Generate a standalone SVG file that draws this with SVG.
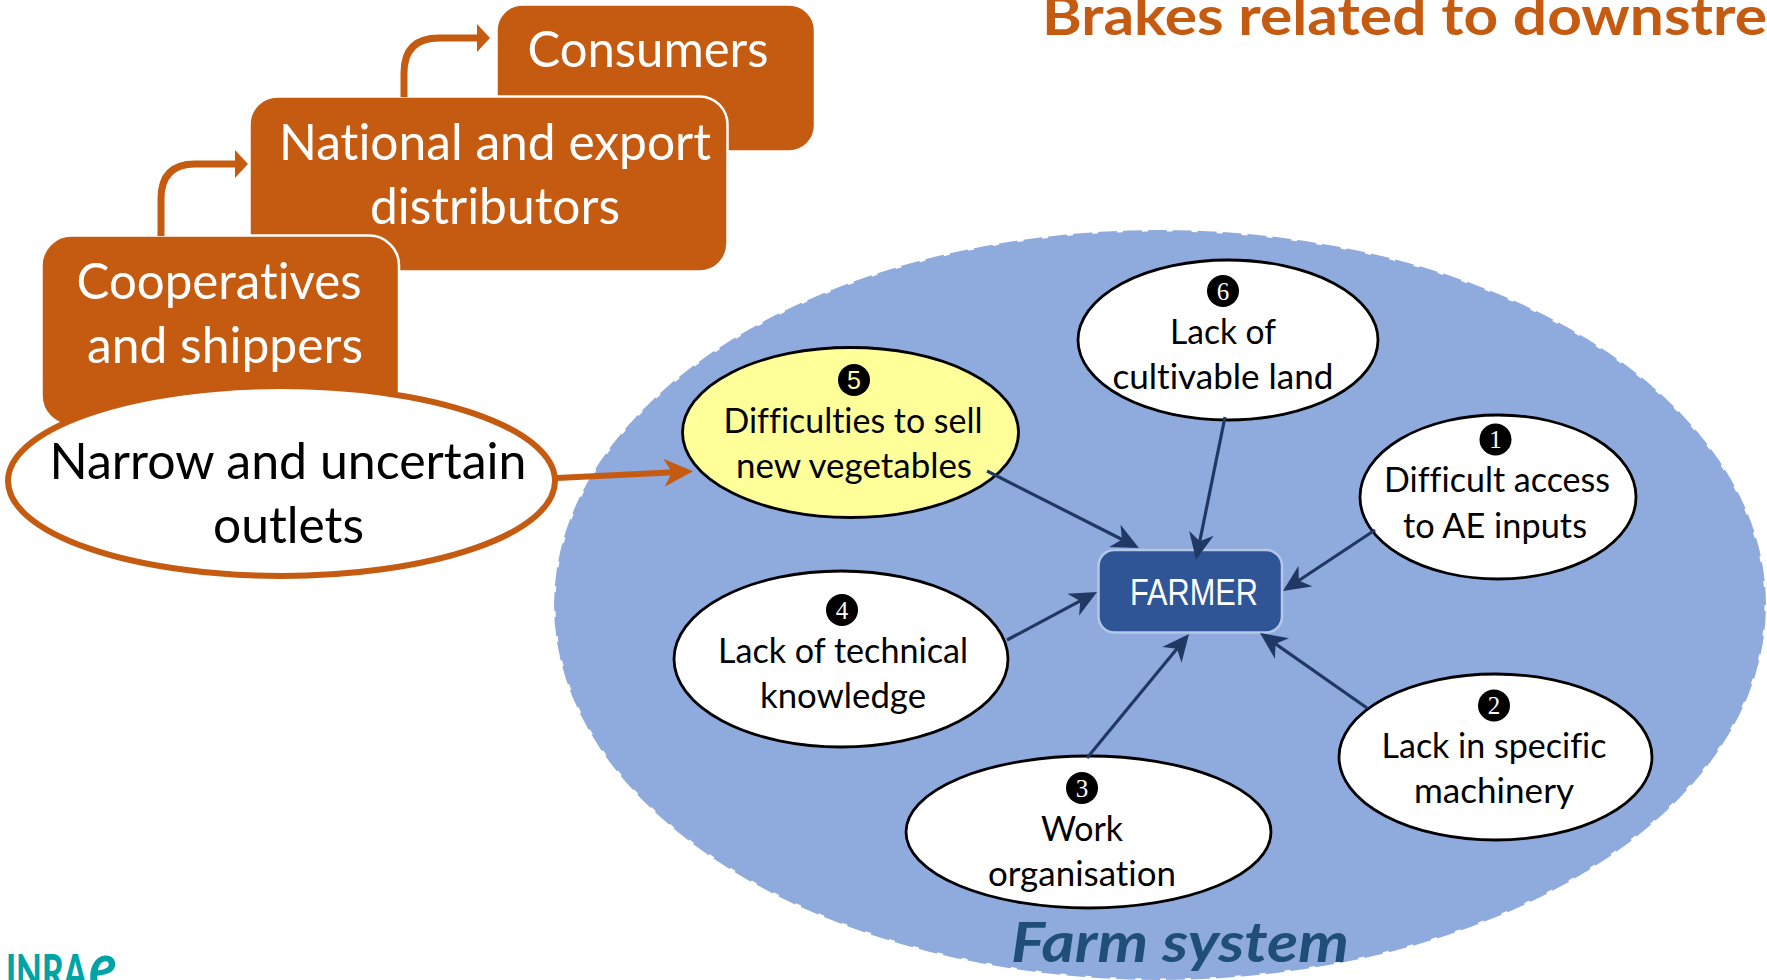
<svg xmlns="http://www.w3.org/2000/svg" width="1767" height="980" viewBox="0 0 1767 980">
<style>
text{font-family:"Lato","Open Sans",sans-serif;text-anchor:middle;font-variant-ligatures:none}
.box{fill:#c55a11;stroke:#fff;stroke-width:2.5}
.w{fill:#fff;font-size:50px}
.b{fill:#000;font-size:50px}
.o{fill:#fff;stroke:#000;stroke-width:2.8}
.t{fill:#000;font-size:35px}
.d{fill:#000}
.n{font-family:"Liberation Serif",serif;font-size:25px;fill:#fff}
.c{stroke:#203864;stroke-width:3.2;fill:none;marker-end:url(#ah)}
.r{stroke:#c55a11;fill:none}
</style>
<defs>
<marker id="ah" markerUnits="userSpaceOnUse" markerWidth="28" markerHeight="26" refX="17" refY="13" orient="auto"><path d="M0,0.5 L27,13 L0,25.5 L8,13Z" fill="#203864"/></marker>
<marker id="oh" markerUnits="userSpaceOnUse" markerWidth="30" markerHeight="30" refX="15" refY="15" orient="auto"><path d="M0,1 L29,15 L0,29 L8,15Z" fill="#c55a11"/></marker>
<marker id="ob" markerUnits="userSpaceOnUse" markerWidth="14" markerHeight="30" refX="1" refY="15" orient="auto"><path d="M0,1 L13,15 L0,29Z" fill="#c55a11"/></marker>
</defs>
<rect width="1767" height="980" fill="#fff"/>
<g id="title"><text x="1042" y="35" style="text-anchor:start;font-weight:700;font-size:54px;fill:#c55a11" textLength="725" lengthAdjust="spacingAndGlyphs">Brakes related to downstre</text></g>
<g id="logo"><text x="6" y="990" style="text-anchor:start;font-size:50px;fill:#00a3a6;font-weight:900" textLength="81" lengthAdjust="spacingAndGlyphs">INRA</text><text x="89" y="990" style="text-anchor:start;font-size:66px;font-style:italic;fill:#00a3a6;font-weight:700" textLength="28" lengthAdjust="spacingAndGlyphs">e</text></g>
<g id="consumers"><rect class="box" x="496.500" y="4.500" width="318.500" height="147" rx="26"/><text class="w" x="648" y="67" textLength="241" lengthAdjust="spacingAndGlyphs">Consumers</text></g>
<g id="distributors"><rect class="box" x="249.500" y="96.500" width="478" height="175" rx="28"/><text class="w" x="495" y="160" textLength="432" lengthAdjust="spacingAndGlyphs">National and export</text><text class="w" x="495" y="224" textLength="250" lengthAdjust="spacingAndGlyphs">distributors</text></g>
<g id="cooperatives"><rect class="box" x="41.500" y="235.500" width="357.500" height="190" rx="30"/><text class="w" x="219" y="299" textLength="285" lengthAdjust="spacingAndGlyphs">Cooperatives</text><text class="w" x="225" y="363" textLength="276" lengthAdjust="spacingAndGlyphs">and shippers</text></g>
<g id="outlets"><ellipse cx="281.500" cy="481" rx="273.500" ry="95" fill="#fff" stroke="#c55a11" stroke-width="6"/><text class="b" x="288" y="479" textLength="477" lengthAdjust="spacingAndGlyphs">Narrow and uncertain</text><text class="b" x="288.500" y="543" textLength="151" lengthAdjust="spacingAndGlyphs">outlets</text></g>
<g id="farm-system"><ellipse cx="1160" cy="605" rx="606" ry="375" fill="#8faadc" stroke="#fff" stroke-width="3" stroke-dasharray="6 19"/><text x="1180" y="962" style="font-weight:700;font-style:italic;font-size:56px;fill:#1f4e79" textLength="338" lengthAdjust="spacingAndGlyphs">Farm system</text></g>
<g id="brake-6"><ellipse class="o" cx="1228" cy="340" rx="150" ry="80"/><circle class="d" cx="1223" cy="291" r="16"/><text class="n" x="1223" y="300">6</text><text class="t" x="1223" y="344" textLength="106" lengthAdjust="spacingAndGlyphs">Lack of</text><text class="t" x="1223" y="389" textLength="221" lengthAdjust="spacingAndGlyphs">cultivable land</text></g>
<g id="brake-1"><ellipse class="o" cx="1498" cy="497" rx="138" ry="82"/><circle class="d" cx="1495.500" cy="439.500" r="16"/><text class="n" x="1495.500" y="448">1</text><text class="t" x="1497" y="492" textLength="226" lengthAdjust="spacingAndGlyphs">Difficult access</text><text class="t" x="1495" y="538" textLength="184" lengthAdjust="spacingAndGlyphs">to AE inputs</text></g>
<g id="brake-2"><ellipse class="o" cx="1495.500" cy="757" rx="156.500" ry="83"/><circle class="d" cx="1494" cy="705.500" r="16"/><text class="n" x="1494" y="714">2</text><text class="t" x="1494" y="758" textLength="225" lengthAdjust="spacingAndGlyphs">Lack in specific</text><text class="t" x="1494" y="803" textLength="160" lengthAdjust="spacingAndGlyphs">machinery</text></g>
<g id="brake-3"><ellipse class="o" cx="1088.500" cy="832" rx="182.500" ry="76"/><circle class="d" cx="1082" cy="788" r="16"/><text class="n" x="1082" y="797">3</text><text class="t" x="1082" y="841" textLength="82" lengthAdjust="spacingAndGlyphs">Work</text><text class="t" x="1082" y="886" textLength="188" lengthAdjust="spacingAndGlyphs">organisation</text></g>
<g id="brake-4"><ellipse class="o" cx="841" cy="659" rx="167" ry="88"/><circle class="d" cx="842" cy="610" r="16"/><text class="n" x="842" y="619">4</text><text class="t" x="843" y="663" textLength="250" lengthAdjust="spacingAndGlyphs">Lack of technical</text><text class="t" x="843" y="708" textLength="166" lengthAdjust="spacingAndGlyphs">knowledge</text></g>
<g id="brake-5"><ellipse class="o" cx="850.500" cy="432.500" rx="168" ry="85" style="fill:#ffff99"/><circle class="d" cx="854" cy="380" r="16"/><text class="n" x="854" y="389" style="fill:#ffff99;font-family:'Liberation Sans',sans-serif">5</text><text class="t" x="853" y="433" textLength="259" lengthAdjust="spacingAndGlyphs">Difficulties to sell</text><text class="t" x="854" y="478" textLength="236" lengthAdjust="spacingAndGlyphs">new vegetables</text></g>
<g id="farmer"><rect x="1098.500" y="550" width="183.500" height="82.500" rx="16" fill="#2f5597" stroke="#b4c7e7" stroke-width="2.500"/><text x="1194" y="605" style="font-family:'Liberation Sans',sans-serif;font-size:37px;fill:#fff" textLength="128" lengthAdjust="spacingAndGlyphs">FARMER</text></g>
<g id="connectors">
<path class="r" stroke-width="7" d="M161,236 V199 Q161,164 195,164 H236" marker-end="url(#ob)"/>
<path class="r" stroke-width="7" d="M404,97 V73 Q404,38 439,38 H478" marker-end="url(#ob)"/>
<path class="r" stroke-width="6" d="M557,478 L679,472" marker-end="url(#oh)"/>
<path class="c" d="M987,471 L1130,543.500"/>
<path class="c" d="M1225,417 L1198,550"/>
<path class="c" d="M1375,530 L1291.300,585.500"/>
<path class="c" d="M1367,708 L1268.200,638.700"/>
<path class="c" d="M1087,758 L1182.700,641.700"/>
<path class="c" d="M1007,640 L1088.200,596.700"/>
</g>
</svg>
